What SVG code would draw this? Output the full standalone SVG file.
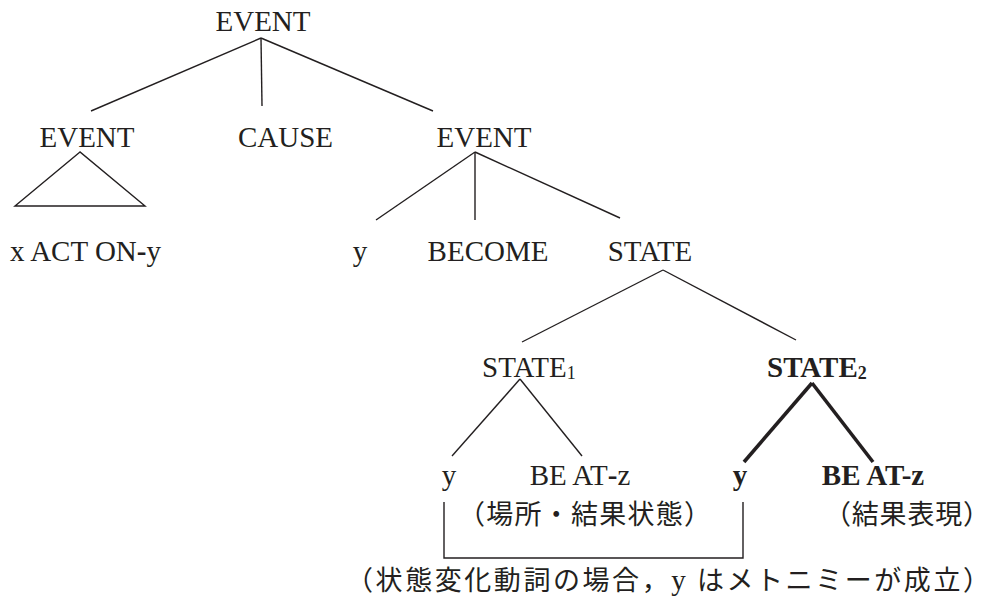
<svg xmlns="http://www.w3.org/2000/svg" width="992" height="604" viewBox="0 0 992 604">
<style>
.t{font-family:"Liberation Serif","Times New Roman",serif;font-size:29px;fill:#231f20;text-anchor:middle}
.b{font-weight:bold}
.j{font-family:"Noto Sans CJK JP","Noto Sans CJK SC",sans-serif;font-size:27px;fill:#231f20}
.l{stroke:#231f20;stroke-width:1.4;fill:none}
.k{stroke:#231f20;stroke-width:3.6;fill:none}
</style>
<rect width="992" height="604" fill="#fff"/>
<g id="connectors">
<line class="l" x1="261" y1="38" x2="91" y2="111"/>
<line class="l" x1="261" y1="38" x2="262" y2="106"/>
<line class="l" x1="261" y1="38" x2="433" y2="111"/>
<polygon class="l" points="80,152 15,206 145,206"/>
<line class="l" x1="475" y1="152" x2="376" y2="220"/>
<line class="l" x1="475" y1="152" x2="475" y2="220"/>
<line class="l" x1="475" y1="152" x2="620" y2="218"/>
<line class="l" x1="663" y1="270" x2="522" y2="342"/>
<line class="l" x1="663" y1="270" x2="796" y2="340"/>
<line class="l" x1="520" y1="379" x2="452" y2="456"/>
<line class="l" x1="520" y1="379" x2="582" y2="456"/>
<line class="k" x1="812" y1="383" x2="744" y2="462"/>
<line class="k" x1="812" y1="383" x2="873" y2="462"/>
<polyline class="l" points="444,502 444,558 743,558 743,502"/>
</g>
<g id="event-top"><text class="t" x="263" y="31">EVENT</text></g>
<g id="event-left"><text class="t" x="87" y="147">EVENT</text></g>
<g id="cause"><text class="t" x="285.5" y="147">CAUSE</text></g>
<g id="event-right"><text class="t" x="484" y="147">EVENT</text></g>
<g id="act"><text class="t" x="10" y="261" style="text-anchor:start">x ACT ON<tspan class="b">-</tspan>y</text></g>
<g id="y1"><text class="t" x="360" y="261">y</text></g>
<g id="become"><text class="t" x="488" y="261">BECOME</text></g>
<g id="state"><text class="t" x="650" y="261">STATE</text></g>
<g id="state1"><text class="t" x="482" y="377" style="text-anchor:start">STATE<tspan font-size="18" dy="2">1</tspan></text></g>
<g id="state2"><text class="t b" x="767" y="377" style="text-anchor:start">STATE<tspan font-size="18" dy="2">2</tspan></text></g>
<g id="y2"><text class="t" x="449" y="485">y</text></g>
<g id="beat1"><text class="t" x="580" y="485">BE AT<tspan class="b">-</tspan>z</text></g>
<g id="y3"><text class="t b" x="740" y="485">y</text></g>
<g id="beat2"><text class="t b" x="873" y="485">BE AT-z</text></g>
<g id="note1"><text class="j" x="458" y="524" textLength="253" lengthAdjust="spacing">（場所・結果状態）</text></g>
<g id="note2"><text class="j" x="824" y="524" textLength="166" lengthAdjust="spacing">（結果表現）</text></g>
<g id="note3"><text class="j" x="346" y="590" textLength="644" lengthAdjust="spacing">（状態変化動詞の場合，<tspan font-family="Liberation Serif,serif" font-size="29">y</tspan> はメトニミーが成立）</text></g>
</svg>
